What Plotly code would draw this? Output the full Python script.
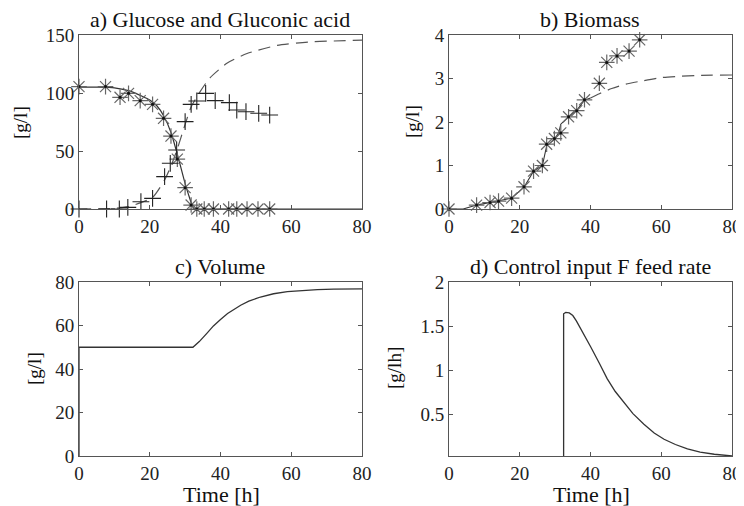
import plotly.graph_objects as go

# ---------------- data ----------------
# a) Glucose measurements (*) and Gluconic acid measurements (+)
t_meas_glu = [0, 7.5, 11.6, 14, 17.3, 20.8, 23.9, 26, 27.8, 30, 31.7, 33.3, 35.4, 38, 42.3, 44.6, 47.5, 50.6, 53.9]
glucose_meas = [105.5, 105.5, 96.3, 99.7, 93.4, 90.2, 78.2, 62.9, 43, 18.4, 3.4, 0, 0, 0, 0, 0, 0, 0, 0]
t_meas_gla = [0, 7.8, 11.4, 13.8, 17.5, 20.8, 24.2, 25.8, 27.6, 30, 31.7, 33.3, 35.8, 38.5, 42.5, 44.6, 47.2, 50.8, 53.9]
gluconic_meas = [0, 0, 0, 1.4, 6.3, 9.2, 27.9, 39.4, 50.9, 75.3, 90.2, 93.1, 99.7, 93.4, 91.7, 85.3, 83.9, 82.5, 81]

# model curves
t_glu_model = [0, 5, 10, 14, 18, 20, 22, 24, 26, 28, 30, 31, 32, 32.6, 40, 60, 80]
glucose_model = [105, 105, 104.5, 102, 97, 94, 89, 80, 66, 45, 22, 12, 3, 0, 0, 0, 0]
t_gla_model = [0, 10, 14, 17.5, 20.8, 24.2, 26, 27.6, 30, 31.7, 34.2, 37, 41.8, 47.5, 56, 65, 80]
gluconic_model = [0, 0.5, 2, 5.5, 10, 25, 37, 50, 73, 88, 101, 113, 125.6, 134, 141, 144, 145.5]

# b) Biomass
t_meas_bio = [0, 7.8, 11.6, 14, 17.7, 21.2, 23.9, 26.4, 27.6, 29.8, 31.6, 33.8, 36.1, 38.3, 42.5, 44.6, 47.5, 50.9, 53.9]
biomass_meas = [0, 0.09, 0.15, 0.18, 0.25, 0.51, 0.87, 1.0, 1.49, 1.62, 1.75, 2.12, 2.26, 2.51, 2.89, 3.37, 3.52, 3.63, 3.89]
t_bio_fit = [0, 4, 7.8, 11.6, 14, 17.7, 21.2, 23.9, 26.4, 27.6, 29.8, 31.0, 31.6, 33.8, 36.1, 38.3, 40]
biomass_fit = [0, 0, 0.09, 0.15, 0.18, 0.25, 0.5, 0.87, 1.0, 1.45, 1.6, 1.75, 1.95, 2.12, 2.27, 2.5, 2.55]
t_bio_pred = [40, 42.5, 46, 50, 55, 60, 65, 70, 80]
biomass_pred = [2.55, 2.65, 2.77, 2.87, 2.95, 3.02, 3.05, 3.07, 3.08]

# c) Volume
t_vol = [0, 0, 32.2, 33, 34, 36.2, 38, 40, 42, 45.7, 48, 51.3, 55, 58.9, 63, 67.4, 72, 80]
volume = [0, 50, 50, 51, 52.6, 56.5, 59.8, 62.8, 65.5, 69.3, 71.2, 73.1, 74.6, 75.6, 76.2, 76.5, 76.7, 76.8]

# d) Feed rate F
t_feed = [0, 32.4, 32.4, 33, 34, 35, 36, 38, 40, 42.5, 44.7, 47, 49.5, 52, 55.1, 58, 60.8, 64, 67.4, 71, 75, 80]
feed = [0, 0, 1.64, 1.655, 1.65, 1.62, 1.56, 1.42, 1.27, 1.08, 0.906, 0.76, 0.63, 0.51, 0.39, 0.29, 0.22, 0.16, 0.11, 0.075, 0.05, 0.03]

x_ticks = [0, 20, 40, 60, 80]
titles = ["a) Glucose and Gluconic acid", "b) Biomass", "c) Volume", "d) Control input F feed rate"]
ylabels = ["[g/l]", "[g/l]", "[g/l]", "[g/lh]"]
xlabel = "Time [h]"

# ---------------- figure ----------------
# The page body has an 8px default margin, so the figure is offset by 8px.
OFF = 8
W, H = 744 - OFF, 506 - OFF
FONT = "Liberation Serif, Times New Roman, serif"
LINE = "#333333"
MARK = "#666666"

fig = go.Figure()

def star_trace(x, y, xa, ya):
    fig.add_trace(go.Scatter(x=x, y=y, mode="markers", xaxis=xa, yaxis=ya,
                             marker=dict(symbol="asterisk-open", size=13, color=MARK,
                                         line=dict(color=MARK, width=1.2)),
                             showlegend=False, cliponaxis=False))
    fig.add_trace(go.Scatter(x=x, y=y, mode="markers", xaxis=xa, yaxis=ya,
                             marker=dict(symbol="circle", size=3, color="#111111"),
                             showlegend=False, cliponaxis=False))

# panel a
fig.add_trace(go.Scatter(x=t_glu_model, y=glucose_model, mode="lines", xaxis="x", yaxis="y",
                         line=dict(color=LINE, width=1.2, shape="spline", smoothing=0.6), showlegend=False))
fig.add_trace(go.Scatter(x=t_gla_model, y=gluconic_model, mode="lines", xaxis="x", yaxis="y",
                         line=dict(color="#555555", width=1.2, dash="12px,7px", shape="spline", smoothing=0.6),
                         showlegend=False))
star_trace(t_meas_glu, glucose_meas, "x", "y")
fig.add_trace(go.Scatter(x=t_meas_gla, y=gluconic_meas, mode="markers", xaxis="x", yaxis="y",
                         marker=dict(symbol="cross-thin-open", size=12, color="#222222",
                                     line=dict(color="#222222", width=1.1)),
                         showlegend=False, cliponaxis=False))

# panel b
fig.add_trace(go.Scatter(x=t_bio_fit, y=biomass_fit, mode="lines", xaxis="x2", yaxis="y2",
                         line=dict(color=LINE, width=1.1), showlegend=False))
fig.add_trace(go.Scatter(x=t_bio_pred, y=biomass_pred, mode="lines", xaxis="x2", yaxis="y2",
                         line=dict(color="#555555", width=1.2, dash="12px,7px", shape="spline", smoothing=0.6),
                         showlegend=False))
star_trace(t_meas_bio, biomass_meas, "x2", "y2")

# panel c
fig.add_trace(go.Scatter(x=t_vol, y=volume, mode="lines", xaxis="x3", yaxis="y3",
                         line=dict(color=LINE, width=1.3), showlegend=False))

# panel d
fig.add_trace(go.Scatter(x=t_feed, y=feed, mode="lines", xaxis="x4", yaxis="y4",
                         line=dict(color=LINE, width=1.3), showlegend=False))

def px_x(p):
    return (p - OFF) / W

def px_y(p):
    return 1 - (p - OFF) / H

xdom_l = [px_x(79), px_x(362)]
xdom_r = [px_x(449), px_x(732)]
ydom_t = [px_y(209), px_y(35)]
ydom_b = [px_y(456), px_y(282)]

axis_common = dict(showline=True, mirror="ticks", linecolor="#555555", linewidth=1,
                   ticks="inside", ticklen=4, tickcolor="#555555", showgrid=False, zeroline=False,
                   automargin=False,
                   tickfont=dict(family=FONT, size=19, color="#222222"))

xax = dict(range=[0, 80], tickvals=x_ticks, **axis_common)

fig.update_layout(
    template="none",
    width=W, height=H, margin=dict(l=0, r=0, t=0, b=0, autoexpand=False),
    paper_bgcolor="white", plot_bgcolor="white",
    xaxis=dict(domain=xdom_l, anchor="y", **xax),
    yaxis=dict(domain=ydom_t, anchor="x", range=[0, 150], tickvals=[0, 50, 100, 150], **axis_common),
    xaxis2=dict(domain=xdom_r, anchor="y2", **xax),
    yaxis2=dict(domain=ydom_t, anchor="x2", range=[0, 4], tickvals=[0, 1, 2, 3, 4], **axis_common),
    xaxis3=dict(domain=xdom_l, anchor="y3", **xax),
    yaxis3=dict(domain=ydom_b, anchor="x3", range=[0, 80], tickvals=[0, 20, 40, 60, 80], **axis_common),
    xaxis4=dict(domain=xdom_r, anchor="y4", **xax),
    yaxis4=dict(domain=ydom_b, anchor="x4", range=[0.03, 2], tickvals=[0.5, 1, 1.5, 2],
                ticktext=["0.5", "1", "1.5", "2"], **axis_common),
)

ann = []
title_pos = [(220, 19), (590, 19), (220, 266), (590, 266)]
for txt, (x, y) in zip(titles, title_pos):
    ann.append(dict(text=txt, x=px_x(x), y=px_y(y), xref="paper", yref="paper",
                    xanchor="center", yanchor="middle", showarrow=False,
                    font=dict(family=FONT, size=22, color="#111111")))
ylab_pos = [(21, 122), (413, 122), (34, 368), (394, 368)]
for txt, (x, y) in zip(ylabels, ylab_pos):
    ann.append(dict(text=txt, x=px_x(x), y=px_y(y), xref="paper", yref="paper",
                    xanchor="center", yanchor="middle", showarrow=False, textangle=-90,
                    font=dict(family=FONT, size=19, color="#111111")))
for x in (221, 591):
    ann.append(dict(text=xlabel, x=px_x(x), y=px_y(494), xref="paper", yref="paper",
                    xanchor="center", yanchor="middle", showarrow=False,
                    font=dict(family=FONT, size=22, color="#111111")))
fig.update_layout(annotations=ann)

fig.write_html("out.html")
